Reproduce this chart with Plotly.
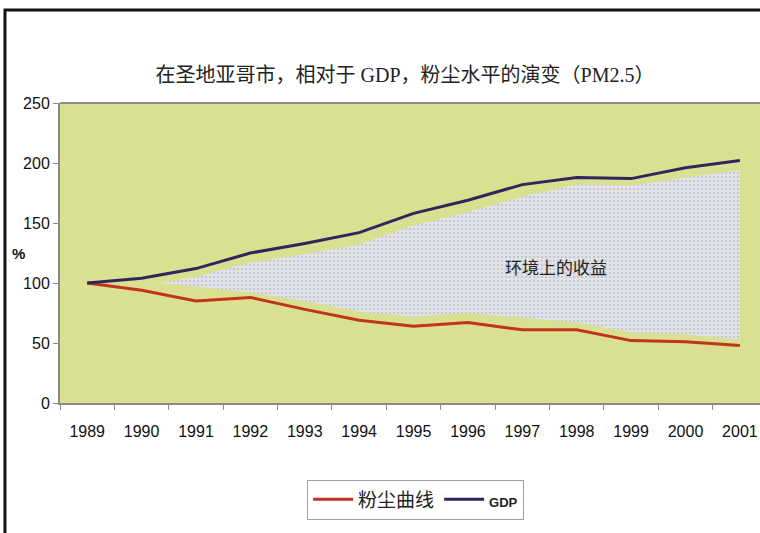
import plotly.graph_objects as go

years = ["1989", "1990", "1991", "1992", "1993", "1994", "1995",
         "1996", "1997", "1998", "1999", "2000", "2001"]
dust = [100, 94, 85, 88, 78, 69, 64, 67, 61, 61, 52, 51, 48]
gdp = [100, 104, 112, 125, 133, 142, 158, 169, 182, 188, 187, 196, 202]

# "Environmental gain" band between the two curves (x in year-index units)
band_x = [1.32, 2, 3, 4, 5, 6, 7, 8, 9, 10, 11, 12]
band_upper = [100, 105, 117, 124, 132, 148, 159, 172, 182, 181, 188, 194]
band_lower = [100, 97, 92, 85, 76, 72, 75, 71, 67, 59, 57, 53]

y_ticks = [0, 50, 100, 150, 200, 250]

idx = list(range(len(years)))
cjk = "Liberation Serif, Noto Sans CJK SC, serif"
sans = "Liberation Sans, Arial, sans-serif"

fig = go.Figure()

fig.add_trace(go.Scatter(
    x=band_x + band_x[::-1],
    y=band_upper + band_lower[::-1],
    fill="toself", mode="lines", line=dict(width=0, color="rgba(0,0,0,0)"),
    fillcolor="#dfe1e6",
    fillpattern=dict(shape=".", fgcolor="#a4a9b6", bgcolor="#e2e4e9",
                     size=4, solidity=0.3),
    showlegend=False, hoverinfo="skip",
))

fig.add_trace(go.Scatter(
    x=idx, y=dust, mode="lines", name="粉尘曲线",
    line=dict(color="#c0331c", width=3),
))
fig.add_trace(go.Scatter(
    x=idx, y=gdp, mode="lines",
    name="<span style='font-family:Liberation Sans;font-size:13px'><b>GDP</b></span>",
    line=dict(color="#33245e", width=3),
))

fig.add_annotation(x=8.62, y=112, text="环境上的收益", showarrow=False,
                   font=dict(family=cjk, size=17, color="#222222"))
fig.add_annotation(xref="paper", yref="paper", x=-0.071, y=0.5, text="<b>%</b>",
                   showarrow=False, font=dict(family=sans, size=15, color="#111111"))

# plot-area top border
fig.add_shape(type="line", xref="paper", yref="paper", x0=0, x1=1, y0=1, y1=1,
              line=dict(color="#8a8a8a", width=2))
# outer frame (left and top edges visible)
fig.add_shape(type="rect", xref="paper", yref="paper",
              x0=-0.0786, x1=1.2, y0=-0.7, y1=1.31,
              line=dict(color="#111111", width=3))

fig.update_layout(
    width=760, height=533,
    margin=dict(l=60, r=0, t=103, b=130),
    paper_bgcolor="white",
    plot_bgcolor="#d9e190",
    title=dict(text="在圣地亚哥市，相对于 GDP，粉尘水平的演变（PM2.5）",
               x=0.533, xanchor="center", y=1 - 75 / 533, yanchor="middle",
               font=dict(family=cjk, size=20, color="#222222")),
    showlegend=True,
    legend=dict(orientation="h", x=0.353, y=-0.255, xanchor="left", yanchor="top",
                bordercolor="#a0a0a0", borderwidth=1, bgcolor="white",
                font=dict(family=cjk, size=19, color="#222222"),
                itemwidth=40, tracegroupgap=0),
)

fig.update_xaxes(
    range=[-0.5, 12.37], tickmode="array", tickvals=idx, ticktext=years,
    ticks="", showgrid=False, zeroline=False,
    showline=True, linecolor="#8a8a8a", linewidth=2,
    ticklabelstandoff=13,
    tickfont=dict(family=sans, size=16, color="#111111"),
    minor=dict(tickmode="array", tickvals=[i - 0.5 for i in range(14)],
               ticks="outside", ticklen=5, tickcolor="#8a8a8a", showgrid=False),
)
fig.update_yaxes(
    range=[0, 250], tickmode="array", tickvals=y_ticks,
    ticks="outside", ticklen=5, tickcolor="#8a8a8a",
    showgrid=False, zeroline=False,
    showline=True, linecolor="#8a8a8a", linewidth=2,
    tickfont=dict(family=sans, size=16, color="#111111"),
)

fig.write_html("out.html")
